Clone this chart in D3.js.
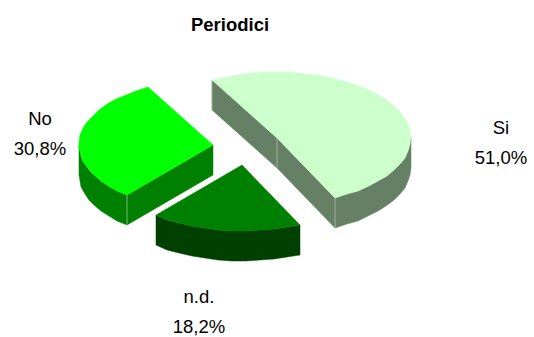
<!DOCTYPE html>
<html>
<head>
<meta charset="utf-8">
<script src="https://cdnjs.cloudflare.com/ajax/libs/d3/7.8.5/d3.min.js"></script>
<style>
  html, body { margin: 0; padding: 0; background: #fff; }
  text { font-family: "Liberation Sans", Arial, sans-serif; fill: #000; }
</style>
</head>
<body>
<svg id="chart" width="534" height="337"></svg>
<script>
const title = "Periodici";
const categories = ["Si", "n.d.", "No"];
const shares = [51.0, 18.2, 30.8];
const topColors = ["#ccffcc", "#008000", "#00ff00"];
const sideColors = ["#668066", "#004000", "#008000"];

// pie geometry
const cx = 246.8, cy = 146.5;
const rx = 134, ry = 66;
const explodeX = 34, explodeY = 18.6;
const depth = 30;
const firstAngle = -29 * Math.PI / 180;
const step = 6 * Math.PI / 180;

const svg = d3.select("#chart");
const pct = d3.formatLocale({ decimal: ",", thousands: ".", grouping: [3], currency: ["", ""] }).format(".1f");

const slices = d3.pie().sort(null)
  .startAngle(firstAngle)
  .endAngle(firstAngle + 2 * Math.PI)(shares);

// squash the circle to an ellipse, rounded to whole pixels like the original
const project = (c, a) => [Math.round(c[0] + rx * Math.sin(a)), Math.round(c[1] - ry * Math.cos(a))];
const line = d3.line();

function arcPoints(c, a0, a1) {
  const n = Math.max(1, Math.ceil((a1 - a0) / step));
  return d3.range(n + 1).map(i => project(c, a0 + (a1 - a0) * i / n));
}
const down = p => [p[0], p[1] + depth];

slices.forEach(s => {
  const mid = (s.startAngle + s.endAngle) / 2;
  s.center = [cx + explodeX * Math.sin(mid), cy - explodeY * Math.cos(mid)];
  s.apex = s.center.map(Math.round);
});

function sidePanel(g, pts, color) {
  g.append("path")
    .attr("d", line(pts.concat(pts.slice().reverse().map(down))) + "Z")
    .attr("fill", color)
    .attr("stroke", color)
    .attr("stroke-width", 0.5);
}
function seam(g, p) {
  g.append("path")
    .attr("d", line([p, down(p)]))
    .attr("stroke", "#b4c8b4")
    .attr("stroke-opacity", 0.7)
    .attr("stroke-width", 1)
    .attr("fill", "none");
}

// back to front: Si, No, n.d.
[0, 2, 1].forEach(i => {
  const s = slices[i];
  const g = svg.append("g");
  const from = project(s.center, s.startAngle);
  const to = project(s.center, s.endAngle);

  // flat cut faces that turn towards the viewer
  if (i === 0) {
    sidePanel(g, [from, s.apex], sideColors[i]);
    sidePanel(g, [s.apex, to], sideColors[i]);
  }
  if (i === 2) sidePanel(g, [s.apex, from], sideColors[i]);

  // outer rim, only the front half of the ellipse shows
  const a0 = Math.max(s.startAngle, Math.PI / 2);
  const a1 = Math.min(s.endAngle, 3 * Math.PI / 2);
  if (a1 > a0) sidePanel(g, arcPoints(s.center, a0, a1), sideColors[i]);

  if (i === 0) { seam(g, from); seam(g, s.apex); seam(g, to); }
  if (i === 2) { seam(g, from); }

  g.append("path")
    .attr("d", line([s.apex].concat(arcPoints(s.center, s.startAngle, s.endAngle))) + "Z")
    .attr("fill", topColors[i])
    .attr("stroke", topColors[i])
    .attr("stroke-width", 0.5);
});

svg.append("text")
  .attr("x", 230).attr("y", 31)
  .attr("text-anchor", "middle")
  .attr("font-size", 18.5).attr("font-weight", "bold")
  .text(title);

const labelAt = { "Si": [501, 134], "n.d.": [199, 303], "No": [40, 125] };
categories.forEach((c, i) => {
  const t = svg.append("text")
    .attr("text-anchor", "middle")
    .attr("font-size", 18.5);
  const [x, y] = labelAt[c];
  t.append("tspan").attr("x", x).attr("y", y).text(c);
  t.append("tspan").attr("x", x).attr("y", y + 30).text(pct(shares[i]) + "%");
});
</script>
</body>
</html>
